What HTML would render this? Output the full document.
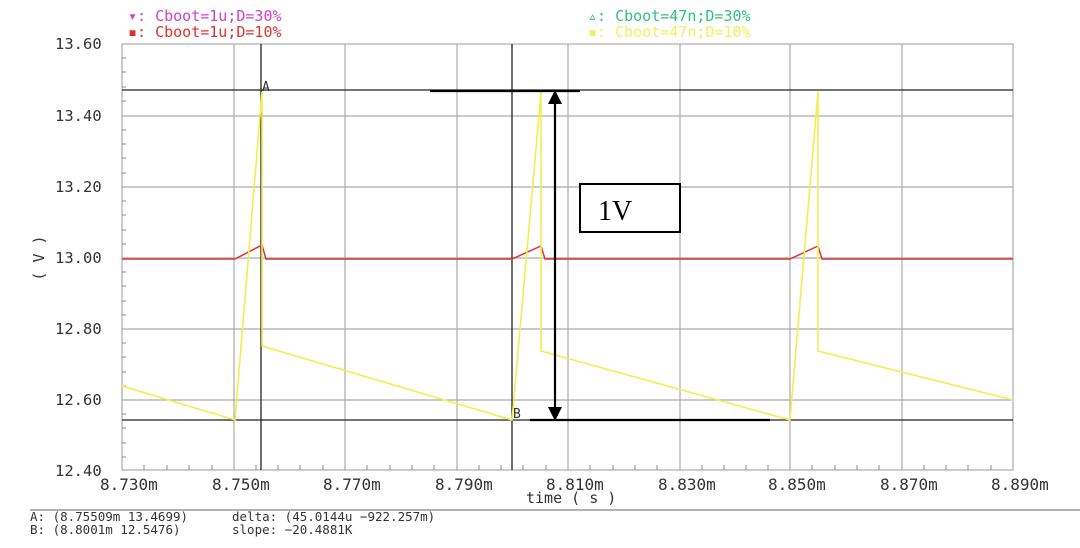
<!DOCTYPE html><html><head><style>body{margin:0;background:#fff}svg text{font-family:"DejaVu Sans Mono","Liberation Mono",monospace}</style></head><body>
<svg width="1080" height="543" xmlns="http://www.w3.org/2000/svg">
<g stroke="#aaa" stroke-width="1.2">
<line x1="234" y1="44" x2="234" y2="470"/><line x1="345" y1="44" x2="345" y2="470"/><line x1="457" y1="44" x2="457" y2="470"/><line x1="568" y1="44" x2="568" y2="470"/><line x1="680" y1="44" x2="680" y2="470"/><line x1="790" y1="44" x2="790" y2="470"/><line x1="902" y1="44" x2="902" y2="470"/>
<line x1="122" y1="116" x2="1013" y2="116"/><line x1="122" y1="187" x2="1013" y2="187"/><line x1="122" y1="258" x2="1013" y2="258"/><line x1="122" y1="329" x2="1013" y2="329"/><line x1="122" y1="400" x2="1013" y2="400"/>
</g>
<rect x="122" y="44" width="891" height="426" fill="none" stroke="#aaa" stroke-width="1.2"/>
<path stroke="#888" d="M122 58h4M122 72h4M122 87h4M122 101h4M122 130h4M122 144h4M122 158h4M122 173h4M122 201h4M122 215h4M122 230h4M122 244h4M122 272h4M122 286h4M122 301h4M122 315h4M122 343h4M122 357h4M122 372h4M122 386h4M122 414h4M122 428h4M122 443h4M122 457h4"/>
<path stroke="#888" d="M144 470v-5M167 470v-5M189 470v-5M212 470v-5M256 470v-5M278 470v-5M300 470v-5M323 470v-5M367 470v-5M390 470v-5M412 470v-5M434 470v-5M479 470v-5M501 470v-5M523 470v-5M546 470v-5M590 470v-5M613 470v-5M635 470v-5M657 470v-5M702 470v-5M724 470v-5M746 470v-5M768 470v-5M812 470v-5M835 470v-5M857 470v-5M879 470v-5M924 470v-5M946 470v-5M968 470v-5M991 470v-5"/>
<g stroke="#222" stroke-width="1.3">
<line x1="261" y1="44" x2="261" y2="470"/><line x1="512" y1="44" x2="512" y2="470"/>
<line x1="122" y1="90" x2="1013" y2="90"/><line x1="122" y1="420" x2="1013" y2="420"/>
</g>
<path d="M122 259H235L262 245L266 259H512L541 246L545 259H790L818 246L822 259H1013" fill="none" stroke="#d33" stroke-width="1.5"/>
<path d="M122 386L235 420L262 92V346L512 420L541 92V351L790 420L818 92V351L1013 400" fill="none" stroke="#f2ee50" stroke-width="1.6"/>
<g stroke="#000" stroke-width="2.2">
<line x1="430" y1="91" x2="580" y2="91"/><line x1="530" y1="420" x2="770" y2="420"/>
<line x1="555" y1="100" x2="555" y2="410"/>
</g>
<path d="M555 90l-7 14h14z M555 421l-7-14h14z" fill="#000"/>
<rect x="580" y="184" width="100" height="48" fill="#fff" stroke="#000" stroke-width="2"/>
<text x="598" y="220" font-size="28" style="font-family:'Liberation Serif',serif">1V</text>
<g font-size="15.5" fill="#333">
<text x="55" y="49">13.60</text><text x="55" y="121">13.40</text><text x="55" y="192">13.20</text><text x="55" y="263">13.00</text><text x="55" y="334">12.80</text><text x="55" y="405">12.60</text><text x="55" y="476">12.40</text>
</g>
<g font-size="16" fill="#333">
<text x="100" y="490">8.730m</text><text x="212" y="490">8.750m</text><text x="323" y="490">8.770m</text><text x="435" y="490">8.790m</text><text x="546" y="490">8.810m</text><text x="658" y="490">8.830m</text><text x="768" y="490">8.850m</text><text x="880" y="490">8.870m</text><text x="991" y="490">8.890m</text>
<text x="526" y="503" font-size="15">time ( s )</text>
<text transform="translate(44,258) rotate(-90)" text-anchor="middle" font-size="15">( V )</text>
<text x="262" y="91" font-size="13">A</text><text x="513" y="418" font-size="13">B</text>
</g>
<g font-size="15">
<text x="128" y="21" fill="#d040d0">▾: Cboot=1u;D=30%</text>
<text x="128" y="37" fill="#e03030">▪: Cboot=1u;D=10%</text>
<text x="588" y="21" fill="#30c080">▵: Cboot=47n;D=30%</text>
<text x="588" y="37" fill="#f0f060">▪: Cboot=47n;D=10%</text>
</g>
<line x1="30" y1="510" x2="1080" y2="510" stroke="#999" stroke-width="1.5"/>
<g font-size="12.5" fill="#333">
<text x="30" y="521">A: (8.75509m 13.4699)</text><text x="30" y="534">B: (8.8001m 12.5476)</text>
<text x="232" y="521">delta: (45.0144u −922.257m)</text><text x="232" y="534">slope: −20.4881K</text>
</g>
</svg></body></html>
